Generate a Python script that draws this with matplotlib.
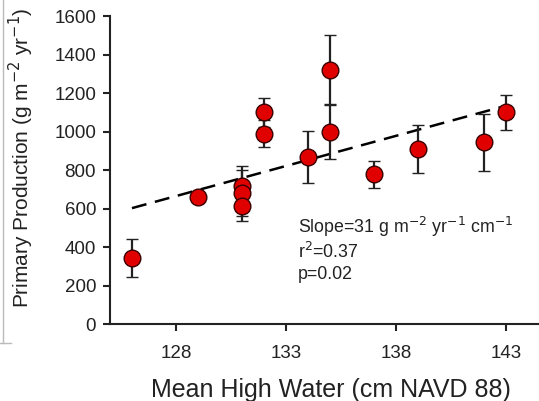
import numpy as np
import matplotlib.pyplot as plt
from matplotlib.lines import Line2D

plt.rcParams['font.family'] = ['Liberation Sans', 'DejaVu Sans']

# mean high water (cm NAVD 88) and primary production (g m-2 yr-1)
mhw = [126, 129, 131, 131, 131, 132, 132, 134, 135, 135, 137, 139, 142, 143]
prod = [343, 660, 715, 680, 615, 1100, 988, 870, 1320, 1000, 779, 907, 945, 1100]
err = [97, 20, 105, 120, 80, 75, 70, 135, 183, 145, 70, 125, 148, 92]

# regression line end points
fit_x = [126, 143]
fit_y = [602, 1134]

xticks = [128, 133, 138, 143]
yticks = [0, 200, 400, 600, 800, 1000, 1200, 1400, 1600]

stats = ['Slope=31 g m$^{-2}$ yr$^{-1}$ cm$^{-1}$', 'r$^{2}$=0.37', 'p=0.02']
stats_y = [471, 341, 234]

fig = plt.figure(figsize=(5.39, 4.01), dpi=100)
ax = fig.add_axes([0.204, 0.192, 0.796, 0.768])

ax.plot(fit_x, fit_y, color='black', lw=1.8, dashes=(6, 3.5), zorder=1)
ax.errorbar(mhw, prod, yerr=err, fmt='o', color='#e00000', ms=12,
            mec='#3a0000', mew=1.0, ecolor='#222222', elinewidth=1.6,
            capsize=4.5, capthick=1.6, zorder=2)

ax.set_xlim(125, 144.5)
ax.set_ylim(0, 1600)
ax.set_xticks(xticks)
ax.set_yticks(yticks)
ax.spines['top'].set_visible(False)
ax.spines['right'].set_visible(False)
for s in ['left', 'bottom']:
    ax.spines[s].set_linewidth(1.5)
    ax.spines[s].set_color('#222222')
ax.tick_params(direction='out', length=5, width=1.5, labelsize=13.5,
               colors='#222222', pad=5)
ax.tick_params(axis='x', pad=10)

ax.set_xlabel('Mean High Water (cm NAVD 88)', fontsize=18, color='#222222')
ax.xaxis.set_label_coords(0.515, -0.175)
ax.set_ylabel('Primary Production (g m$^{-2}$ yr$^{-1}$)', fontsize=15,
              color='#222222')
ax.yaxis.set_label_coords(-0.172, 0.54)

for txt, yy in zip(stats, stats_y):
    ax.text(133.55, yy, txt, fontsize=12.8, color='#222222',
            va='baseline', ha='left')

# faint frame remnant at the left edge
fig.add_artist(Line2D([0.006, 0.006], [0.145, 1.0], color='#bbbbbb', lw=1))
fig.add_artist(Line2D([0.0, 0.02], [0.145, 0.145], color='#bbbbbb', lw=1))

fig.savefig('out.png', dpi=100)
